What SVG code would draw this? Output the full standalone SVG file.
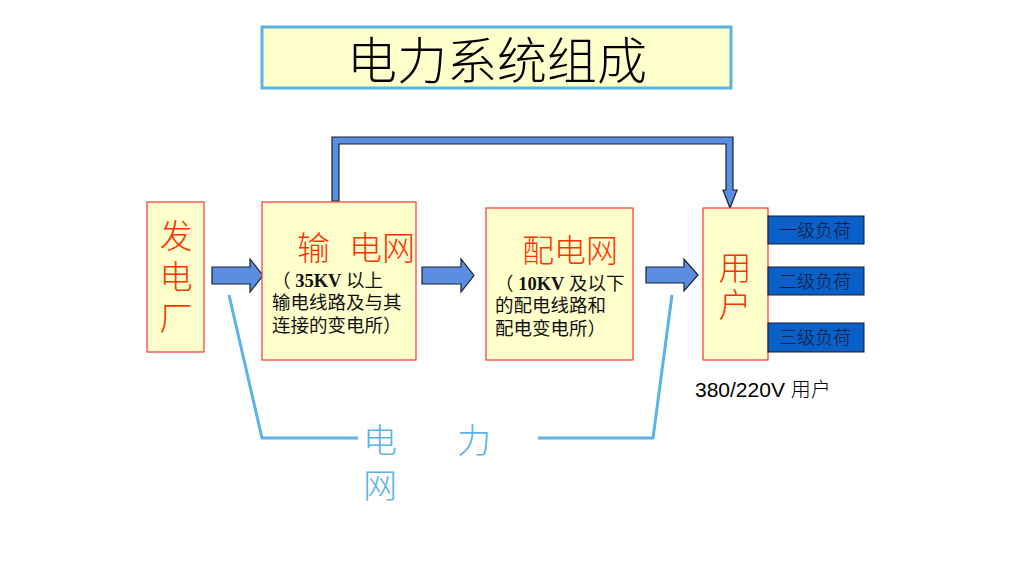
<svg xmlns="http://www.w3.org/2000/svg" width="1024" height="576" viewBox="0 0 1024 576">
<style>
.box{fill:#ffffcc;stroke:#ff3333;stroke-width:1.2}
.load{fill:#0b60c8;stroke:#1a1a2a;stroke-width:1}
.arrow{fill:#5b8ee0;stroke:#1a2030;stroke-width:1.2;stroke-linejoin:miter}
.red{fill:#ff3300;font-family:"Noto Sans CJK SC",sans-serif;font-weight:300}
.vert{writing-mode:vertical-rl;text-orientation:upright}
.sub{fill:#111;font-family:"Liberation Serif","Noto Sans CJK SC",serif;font-size:18.5px}
.loadt{fill:#101838;font-family:"Noto Sans CJK SC",sans-serif;font-size:18px;text-anchor:middle;font-weight:300}
.net{fill:#5ab4e6;font-family:"Noto Sans CJK SC",sans-serif;font-size:34px;font-weight:300}
.bracket{fill:none;stroke:#5ab4e6;stroke-width:3;stroke-linejoin:miter}
</style>
<rect width="1024" height="576" fill="#ffffff"/>
<g id="title">
<rect x="262" y="27" width="469" height="61" fill="#ffffcc" stroke="#5ab4e0" stroke-width="3"/>
<text x="497" y="79" text-anchor="middle" font-family="Noto Sans CJK SC,sans-serif" font-weight="300" font-size="50" fill="#000">电力系统组成</text>
</g>
<g id="connectors">
<path class="arrow" d="M332,201 V137 H733 V190 H737 L730,208 L723,190 H726 V144 H339 V201 Z"/>
<path class="arrow" d="M212,267 H250 V259 L263,275.5 L250,292 V284 H212 Z"/>
<path class="arrow" d="M422,267 H461 V259 L474,275.5 L461,292 V284 H422 Z"/>
<path class="arrow" d="M646,267 H684 V259 L698,275 L684,291 V283 H646 Z"/>
<polyline class="bracket" points="229,295 262,438 358,438"/>
<polyline class="bracket" points="538,438 653,438 672,295"/>
</g>
<g id="plant">
<rect class="box" x="147" y="202" width="57" height="150"/>
<text class="red vert" font-size="33" letter-spacing="8" x="176" y="219">发电厂</text>
</g>
<g id="transmission">
<rect class="box" x="262" y="202" width="154" height="158"/>
<text class="red" font-size="33" x="297" y="260">输</text>
<text class="red" font-size="33" x="349" y="260">电网</text>
<text class="sub" x="272" y="287">（ <tspan font-weight="bold">35KV</tspan> 以上</text>
<text class="sub" x="272" y="309">输电线路及与其</text>
<text class="sub" x="272" y="332">连接的变电所）</text>
</g>
<g id="distribution">
<rect class="box" x="486" y="208" width="147" height="152"/>
<text class="red" font-size="32" x="522" y="262">配电网</text>
<text class="sub" x="495" y="290">（ <tspan font-weight="bold">10KV</tspan> 及以下</text>
<text class="sub" x="495" y="312">的配电线路和</text>
<text class="sub" x="495" y="335">配电变电所）</text>
</g>
<g id="user">
<rect class="box" x="703" y="208" width="65" height="152"/>
<text class="red vert" font-size="33" letter-spacing="4" x="735" y="251">用户</text>
</g>
<g id="load1">
<rect class="load" x="768" y="216" width="96" height="28"/>
<text class="loadt" x="815" y="237">一级负荷</text>
</g>
<g id="load2">
<rect class="load" x="768" y="267" width="96" height="28"/>
<text class="loadt" x="815" y="288">二级负荷</text>
</g>
<g id="load3">
<rect class="load" x="768" y="323" width="96" height="29"/>
<text class="loadt" x="815" y="344">三级负荷</text>
</g>
<g id="voltage-label">
<text x="695" y="397" font-family="Liberation Sans,Noto Sans CJK SC,sans-serif" font-size="21" fill="#000">380/220V <tspan font-size="20" font-weight="300">用户</tspan></text>
</g>
<g id="grid-label">
<text class="net" x="363" y="453">电</text>
<text class="net" x="457" y="453">力</text>
<text class="net" x="363" y="498">网</text>
</g>
</svg>
